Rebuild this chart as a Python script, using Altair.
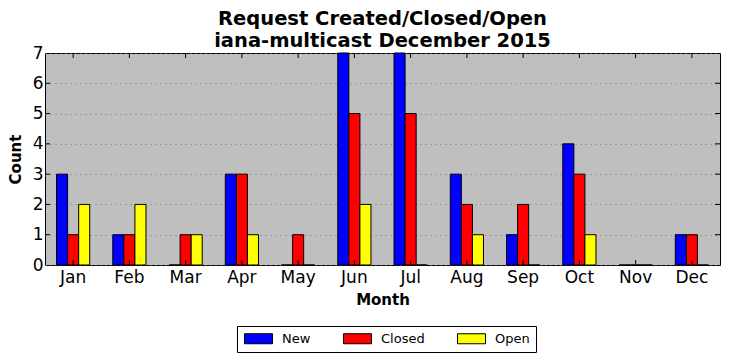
import altair as alt
import pandas as pd

months = ["Jan", "Feb", "Mar", "Apr", "May", "Jun", "Jul", "Aug", "Sep", "Oct", "Nov", "Dec"]
series = ["New", "Closed", "Open"]
new_vals = [3, 1, 0, 3, 0, 7, 7, 3, 1, 4, 0, 1]
closed_vals = [1, 1, 1, 3, 1, 5, 5, 2, 2, 3, 0, 1]
open_vals = [2, 2, 1, 1, 0, 2, 0, 1, 0, 1, 0, 0]
colors = ["#0000ff", "#ff0000", "#ffff00"]
y_ticks = [0, 1, 2, 3, 4, 5, 6, 7]

rows = []
for name, vals in zip(series, [new_vals, closed_vals, open_vals]):
    for m, v in zip(months, vals):
        rows.append({"Month": m, "Series": name, "Count": v})
df = pd.DataFrame(rows)
mdf = pd.DataFrame({"Month": months})
ydf = pd.DataFrame({"Count": y_ticks[1:-1]})

W, H = 675, 212

xscale = alt.Scale(domain=months, paddingInner=0.41, paddingOuter=0.205)
yscale = alt.Scale(domain=[0, 7], nice=False)

xaxis = alt.Axis(title="Month", labelAngle=0, ticks=False, domain=False,
                 labelFontSize=17, labelPadding=4, titleFontSize=15,
                 titleFontWeight="bold", titlePadding=7, labelColor="black",
                 titleColor="black", labelFont="DejaVu Sans", titleFont="DejaVu Sans")
yaxis = alt.Axis(title="Count", values=y_ticks, ticks=False, domain=False,
                 grid=True, gridColor="#777777", gridDash=[1, 4], gridWidth=1,
                 labelFontSize=17, labelPadding=2, titleFontSize=15,
                 titleFontWeight="bold", titlePadding=9, labelColor="black",
                 titleColor="black", labelOverlap=False,
                 labelFont="DejaVu Sans", titleFont="DejaVu Sans")

bars = alt.Chart(df).mark_bar(stroke="black", strokeWidth=1).encode(
    x=alt.X("Month:N", scale=xscale, sort=months, axis=xaxis),
    xOffset=alt.XOffset("Series:N", sort=series, scale=alt.Scale(domain=series, paddingInner=0, paddingOuter=0)),
    y=alt.Y("Count:Q", scale=yscale, axis=yaxis),
    color=alt.Color("Series:N", sort=series,
                    scale=alt.Scale(domain=series, range=colors),
                    legend=alt.Legend(title=None, orient="none", direction="horizontal",
                                      legendX=192, legendY=273,
                                      symbolType="M-2.8,-1L2.8,-1L2.8,1L-2.8,1Z",
                                      symbolSize=100, symbolOffset=9,
                                      symbolStrokeColor="black",
                                      symbolStrokeWidth=1, symbolOpacity=1,
                                      labelFontSize=13, labelColor="black",
                                      labelFont="DejaVu Sans",
                                      labelOffset=17, columnPadding=30,
                                      strokeColor="black", fillColor="white",
                                      padding=6)),
)

bt = alt.Chart(mdf).mark_rule(color="black").encode(
    x=alt.X("Month:N", scale=xscale, sort=months, axis=xaxis), y=alt.value(H), y2=alt.value(H - 5))
tt = alt.Chart(mdf).mark_rule(color="black").encode(
    x=alt.X("Month:N", scale=xscale, sort=months, axis=xaxis), y=alt.value(0), y2=alt.value(5))
lt = alt.Chart(ydf).mark_rule(color="black").encode(
    y=alt.Y("Count:Q", scale=yscale, axis=yaxis), x=alt.value(0), x2=alt.value(5))
rt = alt.Chart(ydf).mark_rule(color="black").encode(
    y=alt.Y("Count:Q", scale=yscale, axis=yaxis), x=alt.value(W), x2=alt.value(W - 5))

chart = alt.layer(bars, bt, tt, lt, rt).properties(
    width=W, height=H, padding=0,
    title=alt.Title(["Request Created/Closed/Open", "iana-multicast December 2015"],
                    fontSize=19.5, fontWeight="bold", lineHeight=22, offset=-5, dy=2,
                    anchor="middle", color="black", font="DejaVu Sans"),
).configure(
    font="DejaVu Sans",
    view=alt.ViewConfig(stroke="black", strokeWidth=1, fill="#bfbfbf"),
)

chart.save("out.html", embed_options={"renderer": "svg", "actions": False})
